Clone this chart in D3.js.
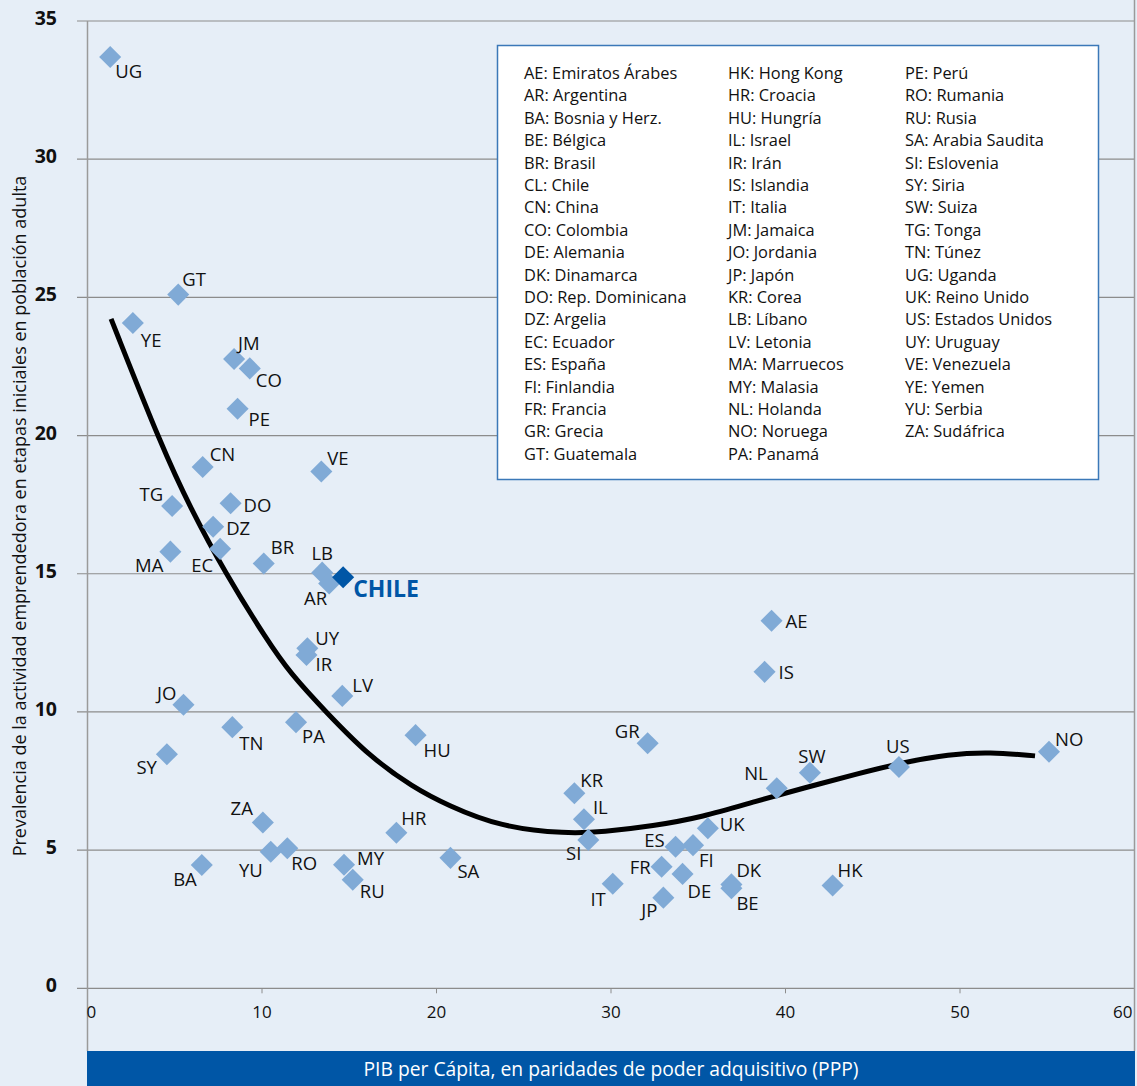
<!DOCTYPE html>
<html><head><meta charset="utf-8">
<script src="https://cdn.jsdelivr.net/npm/d3@7"></script>
<style>
html,body{margin:0;padding:0;background:#e6eef7;}
svg{display:block;font-family:"Open Sans",sans-serif;}
</style></head>
<body>
<svg id="c" width="1137" height="1086"></svg>
<script>
// ---- DATA ----
const codes = ["UG","GT","YE","JM","CO","PE","CN","VE","TG","DO","DZ","EC","MA","BR","LB","AR","CL","UY","IR","LV","JO","TN","PA","HU","SY","ZA","YU","RO","BA","MY","RU","HR","SA","GR","KR","IL","SI","ES","FI","UK","FR","DE","IT","JP","DK","BE","HK","NL","SW","AE","IS","US","NO"];
const gdp = [1.3,5.2,2.6,8.4,9.3,8.6,6.6,13.4,4.85,8.2,7.2,7.6,4.75,10.1,13.45,13.85,14.65,12.6,12.55,14.6,5.5,8.3,11.95,18.8,4.55,10.05,10.5,11.45,6.55,14.7,15.2,17.7,20.8,32.1,27.9,28.45,28.7,33.7,34.7,35.55,32.9,34.1,30.1,33.0,36.9,36.9,42.7,39.5,41.4,39.2,38.8,46.5,55.1];
const tea = [33.7,25.1,24.07,22.77,22.43,20.97,18.86,18.7,17.45,17.55,16.7,15.9,15.8,15.37,15.04,14.65,14.87,12.3,12.06,10.58,10.26,9.45,9.63,9.16,8.47,6.0,4.94,5.07,4.46,4.47,3.93,5.63,4.72,8.87,7.06,6.12,5.37,5.12,5.18,5.79,4.4,4.14,3.78,3.28,3.76,3.62,3.72,7.24,7.8,13.3,11.45,8.01,8.56];
const trendX = [1.35,4.33,5.87,7.88,10.29,11.6,13.72,16.19,18.65,20.6,23.64,27.48,29.54,32.4,35.27,38.14,41.0,44.3,46.56,49.4,51.7,54.3];
const trendY = [24.22,19.48,17.42,15.03,12.6,11.41,9.96,8.37,7.28,6.63,5.84,5.59,5.66,5.87,6.2,6.74,7.24,7.79,8.15,8.47,8.55,8.41];
const xTicks = [0,10,20,30,40,50,60];
const yTicks = [0,5,10,15,20,25,30,35];
const highlightCode = "CL";
const highlightLabel = "CHILE";
const xTitle = "PIB per Cápita, en paridades de poder adquisitivo (PPP)";
const yTitle = "Prevalencia de la actividad emprendedora en etapas iniciales en población adulta";
const legendCol1 = ["AE: Emiratos Árabes","AR: Argentina","BA: Bosnia y Herz.","BE: Bélgica","BR: Brasil","CL: Chile","CN: China","CO: Colombia","DE: Alemania","DK: Dinamarca","DO: Rep. Dominicana","DZ: Argelia","EC: Ecuador","ES: España","FI: Finlandia","FR: Francia","GR: Grecia","GT: Guatemala"];
const legendCol2 = ["HK: Hong Kong","HR: Croacia","HU: Hungría","IL: Israel","IR: Irán","IS: Islandia","IT: Italia","JM: Jamaica","JO: Jordania","JP: Japón","KR: Corea","LB: Líbano","LV: Letonia","MA: Marruecos","MY: Malasia","NL: Holanda","NO: Noruega","PA: Panamá"];
const legendCol3 = ["PE: Perú","RO: Rumania","RU: Rusia","SA: Arabia Saudita","SI: Eslovenia","SY: Siria","SW: Suiza","TG: Tonga","TN: Túnez","UG: Uganda","UK: Reino Unido","US: Estados Unidos","UY: Uruguay","VE: Venezuela","YE: Yemen","YU: Serbia","ZA: Sudáfrica"];

// ---- LAYOUT (label offsets: dx, dy, anchor) ----
const labelPos = {
 UG:[5,21,"start"],GT:[4,-9,"start"],YE:[8,24,"start"],JM:[4,-9,"start"],CO:[6,19,"start"],PE:[11,17,"start"],
 CN:[7,-6,"start"],VE:[6,-6,"start"],TG:[-9,-5,"end"],DO:[13,9,"start"],DZ:[13,8,"start"],EC:[-7,23,"end"],
 MA:[-7,20,"end"],BR:[7,-10,"start"],LB:[0,-13,"middle"],AR:[-2,22,"end"],CL:[10,20,"start"],UY:[8,-3,"start"],
 IR:[9,16,"start"],LV:[10,-4,"start"],JO:[-7,-5,"end"],TN:[7,23,"start"],PA:[6,21,"start"],HU:[8,22,"start"],
 SY:[-10,20,"end"],ZA:[-10,-7,"end"],YU:[-8,25,"end"],RO:[4,22,"start"],BA:[-5,21,"end"],MY:[13,0,"start"],
 RU:[7,18,"start"],HR:[5,-8,"start"],SA:[7,20,"start"],GR:[-8,-5,"end"],KR:[6,-6,"start"],IL:[9,-5,"start"],
 SI:[-7,20,"end"],ES:[-11,0,"end"],FI:[6,22,"start"],UK:[12,3,"start"],FR:[-11,7,"end"],DE:[5,24,"start"],
 IT:[-7,22,"end"],JP:[-6,19,"end"],DK:[5,-7,"start"],BE:[5,22,"start"],HK:[5,-8,"start"],NL:[-9,-8,"end"],
 SW:[2,-10,"middle"],AE:[14,7,"start"],IS:[14,7,"start"],US:[-1,-14,"middle"],NO:[6,-6,"start"]
};

(function(){
const W = 1137, H = 1086;
const pLeft = 87.5, pRight = 1134.5, pTop = 21, pBottom = 988.3;
const barTop = 1051;
const svg = d3.select("#c");
const x = d3.scaleLinear().domain([0,60]).range([pLeft,pRight]);
const y = d3.scaleLinear().domain([0,35]).range([pBottom,pTop]);

svg.append("rect").attr("width",W).attr("height",H).attr("fill","#e6eef7");

const gridColor = "#8c8c8c";
svg.append("g").selectAll("line").data(yTicks).join("line")
  .attr("x1",77).attr("x2",pRight).attr("y1",d=>y(d)).attr("y2",d=>y(d))
  .attr("stroke",gridColor).attr("stroke-width",1.2);
svg.append("line").attr("x1",pLeft).attr("x2",pLeft).attr("y1",pTop).attr("y2",barTop).attr("stroke","#9a9a9a").attr("stroke-width",1.5);
svg.append("line").attr("x1",pRight).attr("x2",pRight).attr("y1",0).attr("y2",barTop).attr("stroke","#9a9a9a").attr("stroke-width",1.5);
svg.append("g").selectAll("line").data(xTicks.slice(1,-1)).join("line")
  .attr("x1",d=>x(d)).attr("x2",d=>x(d)).attr("y1",pBottom).attr("y2",pBottom+5)
  .attr("stroke",gridColor).attr("stroke-width",1);

svg.append("g").selectAll("text").data(yTicks).join("text")
  .attr("x",57).attr("y",d=>y(d)+4).attr("text-anchor","end")
  .attr("font-size",19.5).attr("font-weight","bold").attr("fill","#111")
  .text(d=>d);
svg.append("g").selectAll("text").data(xTicks).join("text")
  .attr("x",(d,i)=> i===0 ? x(d)-1 : (i===xTicks.length-1 ? x(d)-2 : x(d)))
  .attr("y",1018)
  .attr("text-anchor",(d,i)=> i===0 ? "start" : (i===xTicks.length-1 ? "end" : "middle"))
  .attr("font-size",17).attr("fill","#111").text(d=>d);

svg.append("text").attr("transform","translate(26,516) rotate(-90)")
  .attr("text-anchor","middle").attr("font-size",18).attr("fill","#111").text(yTitle);

svg.append("rect").attr("x",pLeft-0.5).attr("y",barTop).attr("width",pRight-pLeft+1).attr("height",H-barTop).attr("fill","#0056a6");
svg.append("text").attr("x",(pLeft+pRight)/2).attr("y",1076).attr("text-anchor","middle")
  .attr("font-size",19.3).attr("fill","#fff").text(xTitle);

const trend = trendX.map((v,i)=>[v,trendY[i]]);
svg.append("path").datum(trend)
  .attr("d",d3.line().x(d=>x(d[0])).y(d=>y(d[1])).curve(d3.curveBasis))
  .attr("fill","none").attr("stroke","#000").attr("stroke-width",5);

const pts = codes.map((c,i)=>({code:c,gx:gdp[i],ty:tea[i]}));
const sq = d3.symbol().type(d3.symbolSquare).size(15.6*15.6);
const order = pts.filter(d=>d.code!==highlightCode).concat(pts.filter(d=>d.code===highlightCode));
svg.append("g").selectAll("path").data(order).join("path")
  .attr("d",sq)
  .attr("transform",d=>`translate(${x(d.gx)},${y(d.ty)}) rotate(45)`)
  .attr("fill",d=>d.code===highlightCode ? "#0056a6" : "#80aad6");

svg.append("g").selectAll("text").data(pts).join("text")
  .attr("x",d=>x(d.gx)+labelPos[d.code][0])
  .attr("y",d=>y(d.ty)+labelPos[d.code][1])
  .attr("text-anchor",d=>labelPos[d.code][2])
  .attr("font-size",d=>d.code===highlightCode?23:18.5)
  .attr("font-weight",d=>d.code===highlightCode?"bold":"normal")
  .attr("fill",d=>d.code===highlightCode?"#0056a6":"#111")
  .text(d=>d.code===highlightCode?highlightLabel:d.code);

const lg = svg.append("g");
lg.append("rect").attr("x",497.5).attr("y",45.5).attr("width",601).attr("height",434)
  .attr("fill","#fff").attr("stroke","#3b78b8").attr("stroke-width",1.5);
const cols = [[legendCol1,524],[legendCol2,728],[legendCol3,905]];
cols.forEach(([arr,cx])=>{
  lg.append("g").selectAll("text").data(arr).join("text")
    .attr("x",cx).attr("y",(d,i)=>79+i*22.4)
    .attr("font-size",16.4).attr("fill","#111").text(d=>d);
});
})();
</script>
</body></html>
